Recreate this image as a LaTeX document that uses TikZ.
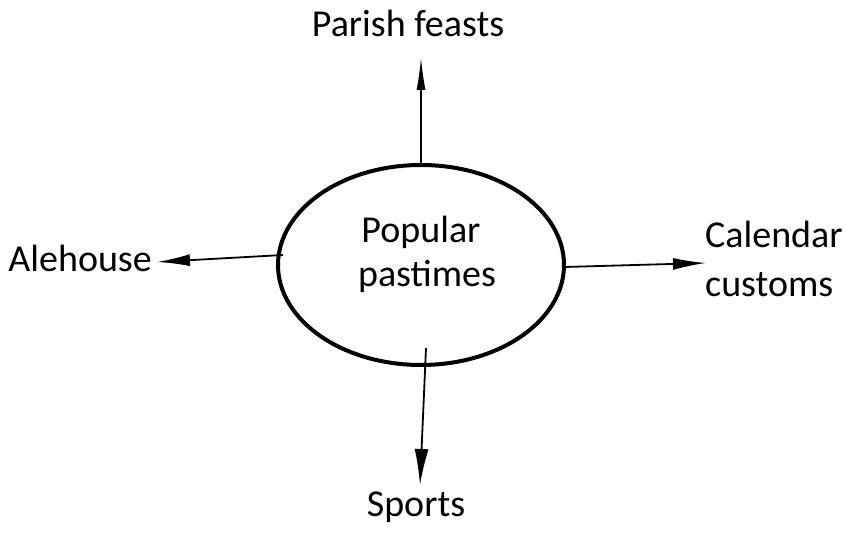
\documentclass[tikz,border=0pt]{standalone}
\usepackage{fontspec}
\setmainfont{Carlito}
\usetikzlibrary{arrows.meta,shapes.geometric}
\tikzset{
  lbl/.style={font=\fontsize{38}{46}\selectfont, inner sep=0pt, align=center},
  arr/.style={line width=1.8pt, -{Latex[length=33pt,width=12pt]}},
  hub/.style={draw, ellipse, line width=4pt, minimum width=286pt, minimum height=200pt, inner sep=0pt}}
\begin{document}
\begin{tikzpicture}[x=1pt,y=1pt]
\useasboundingbox (0,0) rectangle (847,534);
\node[hub] (pp) at (421,269) {};
\node[lbl, anchor=base] (pop) at (421,291) {Popular};
\node[lbl, anchor=base] (pas) at (427,247) {pastimes};
\node[lbl, anchor=base] (pf) at (408,497) {Parish feasts};
\node[lbl, anchor=base east] (ah) at (152,262) {Alehouse};
\node[lbl, anchor=base west] (cal) at (705,286) {Calendar};
\node[lbl, anchor=base west] (cus) at (705,237) {customs};
\node[lbl, anchor=base] (sp) at (416,17) {Sports};
\coordinate (pfT) at (421,476);
\coordinate (ahT) at (157,272);
\coordinate (calT) at (706,271);
\coordinate (spS) at (426,186);
\coordinate (spT) at (420,49);
\coordinate (ahS) at (283,279);
\coordinate (calS) at (565,267);
\draw[arr, line width=1.3pt, -{Latex[length=32pt,width=9pt]}] (pp.north) -- (pfT);
\draw[arr] (ahS) -- (ahT);
\draw[arr] (calS) -- (calT);
\draw[arr, -{Latex[length=36pt,width=14pt]}] (spS) -- (spT);
\end{tikzpicture}
\end{document}
